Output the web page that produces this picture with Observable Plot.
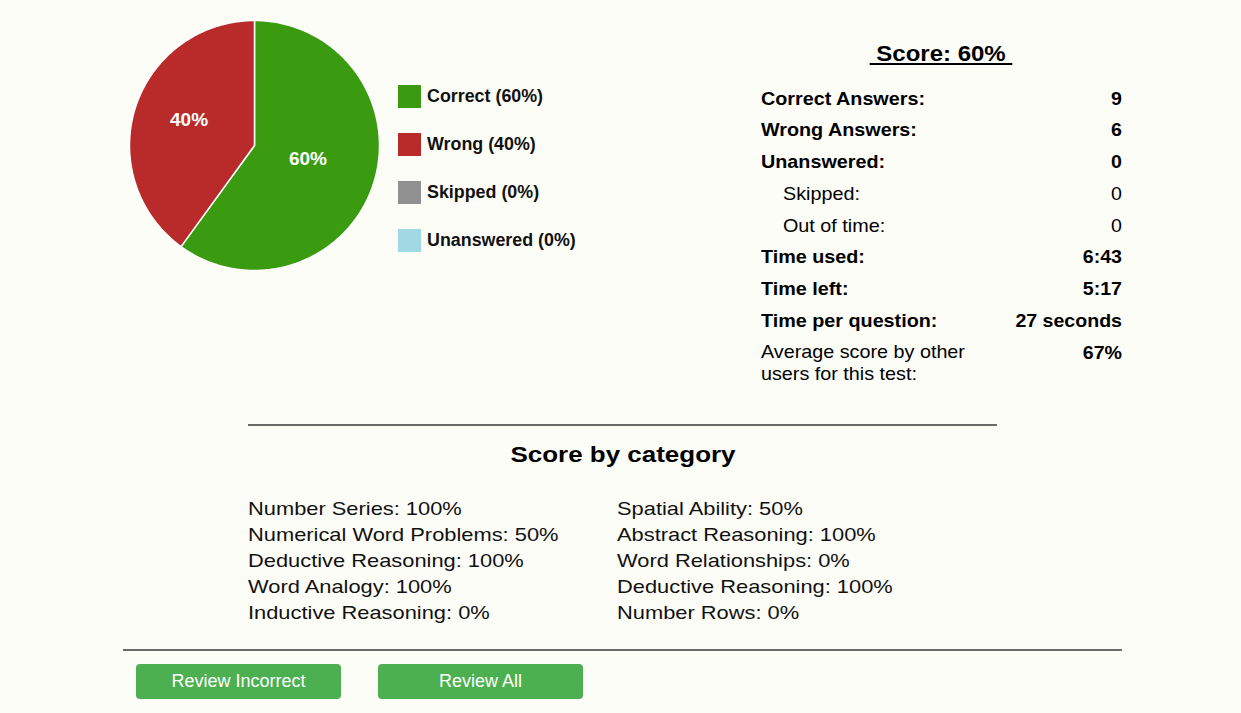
<!DOCTYPE html>
<html><head><meta charset="utf-8">
<script src="https://cdn.jsdelivr.net/npm/d3@7"></script>
<script src="https://cdn.jsdelivr.net/npm/@observablehq/plot@0.6"></script>
<style>
body{margin:0;background:#fdfdf8;font-family:Arial,"Liberation Sans",sans-serif;}
#page{position:relative;width:1241px;height:713px;overflow:hidden;background:#fdfdf8;}
.t{position:absolute;white-space:nowrap;line-height:1;color:#000;}
.rule{position:absolute;height:2px;background:#6a6a6a;}
.btn{position:absolute;background:#4caf50;border-radius:4px;color:#fff;font-size:18px;display:flex;align-items:center;justify-content:center;width:205px;height:35px;}
.sw{position:absolute;width:23px;height:23px;}
#pie{position:absolute;left:124px;top:15px;}
</style></head><body><div id="page"><div id="pie"></div></div>
<script>
// ---- data ----
const answerTypes = ["Correct", "Wrong", "Skipped", "Unanswered"];
const answerPercents = [60, 40, 0, 0];
const answerColors = ["#3b9b10", "#b92b2b", "#909090", "#a0d9e4"];
const scoreTitle = "Score: 60%";
const statLabels = ["Correct Answers:", "Wrong Answers:", "Unanswered:", "Skipped:", "Out of time:", "Time used:", "Time left:", "Time per question:", "Average score by other users for this test:"];
const statValues = ["9", "6", "0", "0", "0", "6:43", "5:17", "27 seconds", "67%"];
const categoryHeading = "Score by category";
const categoryNames = ["Number Series", "Numerical Word Problems", "Deductive Reasoning", "Word Analogy", "Inductive Reasoning", "Spatial Ability", "Abstract Reasoning", "Word Relationships", "Deductive Reasoning", "Number Rows"];
const categoryScores = [100, 50, 100, 100, 0, 50, 100, 0, 100, 0];
const buttonLabels = ["Review Incorrect", "Review All"];

// ---- pie via Plot ----
const pieData = answerTypes.map((t, i) => ({type: t, value: answerPercents[i]}));
const arcs = d3.pie().value(d => d.value).sort(null)(pieData);
const pts = [];
arcs.forEach(a => {
  if (a.endAngle - a.startAngle <= 0) return;
  pts.push({type: a.data.type, x: 0, y: 0});
  const n = Math.max(2, Math.ceil((a.endAngle - a.startAngle) / (Math.PI / 180)));
  for (let k = 0; k <= n; k++) {
    const t = a.startAngle + (a.endAngle - a.startAngle) * k / n;
    pts.push({type: a.data.type, x: Math.sin(t), y: Math.cos(t)});
  }
});
const labels = arcs.filter(a => a.value > 0).map(a => {
  const m = (a.startAngle + a.endAngle) / 2;
  return {x: 0.5 * Math.sin(m), y: 0.5 * Math.cos(m), text: a.data.value + "%"};
});
const pie = Plot.plot({
  width: 260, height: 260, margin: 0,
  x: {domain: [-1.04, 1.04], axis: null},
  y: {domain: [-1.04, 1.04], axis: null},
  color: {domain: answerTypes, range: answerColors},
  style: {background: "transparent", fontFamily: "Arial, 'Liberation Sans', sans-serif", overflow: "visible"},
  marks: [
    Plot.line(pts, {x: "x", y: "y", z: "type", fill: "type", stroke: "white", strokeWidth: 1.5, curve: "linear-closed"}),
    Plot.text(labels, {x: "x", y: "y", text: "text", fill: "white", fontSize: 19, fontWeight: "bold", dx: -6, dy: -6})
  ]
});
document.getElementById("pie").appendChild(pie);

// ---- html text helpers ----
const page = document.getElementById("page");
function addText(str, {x, y, size, bold = false, anchor = "start", sx = 1, color = "#000"}) {
  const el = document.createElement("div");
  el.className = "t";
  el.textContent = str;
  Object.assign(el.style, {left: x + "px", top: (y - 0.49 * size) + "px", fontSize: size + "px", fontWeight: bold ? "bold" : "normal", color});
  const origin = anchor === "start" ? "left" : anchor === "end" ? "right" : "center";
  const tr = anchor === "start" ? "" : anchor === "end" ? "translateX(-100%) " : "translateX(-50%) ";
  el.style.transformOrigin = origin + " center";
  el.style.transform = tr + `scaleX(${sx})`;
  page.appendChild(el);
  return el;
}

// legend
answerTypes.forEach((t, i) => {
  const sw = document.createElement("div");
  sw.className = "sw";
  sw.style.left = "398px"; sw.style.top = (85 + i * 48) + "px"; sw.style.background = answerColors[i];
  page.appendChild(sw);
  addText(`${t} (${answerPercents[i]}%)`, {x: 427, y: 97 + i * 48, size: 17.5, bold: true, sx: 1.02, color: "#111"});
});

// score title
const title = addText("\u00a0" + scoreTitle + "\u00a0", {x: 941, y: 54, size: 22, bold: true, anchor: "middle", sx: 1.09});
title.style.textDecoration = "underline";

// stats table
statLabels.forEach((lab, i) => {
  const y = 98 + i * 31.75;
  const sub = i === 3 || i === 4;
  const last = i === statLabels.length - 1;
  const el = addText(lab, {x: sub ? 783 : 761, y, size: 19, bold: !(sub || last), sx: 1.04});
  if (last) { el.style.whiteSpace = "normal"; el.style.width = "210px"; el.style.lineHeight = "22px"; el.style.top = (y - 0.49 * 19 - 1.5) + "px"; }
  addText(statValues[i], {x: 1122, y, size: 19, bold: !sub, anchor: "end", sx: 1.03});
});

// rules
[[248, 424, 749], [123, 648.5, 999]].forEach(([l, t, w]) => {
  const r = document.createElement("div"); r.className = "rule";
  r.style.left = l + "px"; r.style.top = t + "px"; r.style.width = w + "px";
  page.appendChild(r);
});

// category section
addText(categoryHeading, {x: 623, y: 455, size: 22, bold: true, anchor: "middle", sx: 1.18});
categoryNames.forEach((c, i) => {
  const col = Math.floor(i / 5), row = i % 5;
  addText(`${c}: ${categoryScores[i]}%`, {x: col ? 617 : 248, y: 508 + row * 26, size: 19, sx: 1.15, color: "#111"});
});

// buttons
buttonLabels.forEach((b, i) => {
  const el = document.createElement("div"); el.className = "btn";
  el.style.left = (136 + i * 242) + "px"; el.style.top = "664px";
  el.textContent = b;
  page.appendChild(el);
});
</script></body></html>
